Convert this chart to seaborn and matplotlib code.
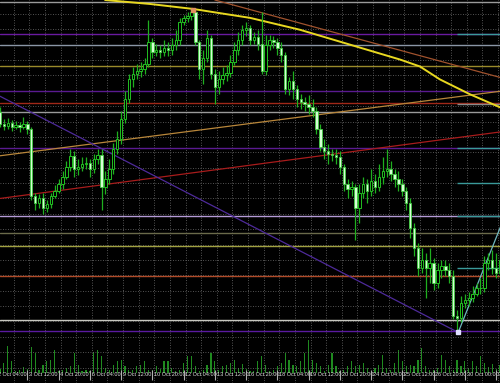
import numpy as np
import pandas as pd
import matplotlib
matplotlib.use("Agg")
import matplotlib.pyplot as plt
from matplotlib import font_manager
import seaborn as sns

# ---------------- data (USDJPY H4, Oct 2006) ----------------
first_open = 118.87
close = [118.75, 118.73, 118.76, 118.72, 118.74, 118.72, 118.75, 118.70, 118.02, 117.95,
         118.00, 117.90, 117.94, 118.02, 118.08, 118.15, 118.22, 118.32, 118.43, 118.30,
         118.32, 118.35, 118.36, 118.30, 118.40, 118.44, 118.12, 118.20, 118.30, 118.50,
         118.60, 118.80, 119.00, 119.20, 119.25, 119.28, 119.30, 119.35, 119.58, 119.48,
         119.50, 119.48, 119.52, 119.50, 119.55, 119.60, 119.78, 119.82, 119.84, 119.88,
         119.58, 119.30, 119.42, 119.62, 119.25, 119.12, 119.20, 119.24, 119.26, 119.38,
         119.50, 119.60, 119.70, 119.72, 119.60, 119.63, 119.56, 119.28, 119.55, 119.60,
         119.58, 119.52, 119.45, 119.10, 119.18, 119.10, 119.00, 118.97, 118.95, 118.92,
         118.88, 118.70, 118.52, 118.48, 118.45, 118.44, 118.42, 118.32, 118.15, 118.10,
         118.12, 117.90, 118.05, 118.15, 118.08, 118.18, 118.12, 118.22, 118.28, 118.30,
         118.25, 118.20, 118.15, 118.08, 117.95, 117.70, 117.50, 117.30, 117.38, 117.30,
         117.35, 117.15, 117.28, 117.32, 117.28, 117.22, 116.82, 116.80, 116.95, 116.98,
         117.00, 117.04, 117.10, 117.10, 117.35, 117.38, 117.30, 117.25, 117.38]
high = [118.92, 118.80, 118.81, 118.79, 118.78, 118.77, 118.82, 118.78, 118.72, 118.05,
        118.04, 118.05, 117.98, 118.05, 118.14, 118.20, 118.28, 118.38, 118.50, 118.48,
        118.40, 118.42, 118.42, 118.40, 118.45, 118.50, 118.50, 118.28, 118.40, 118.56,
        118.68, 118.88, 119.08, 119.25, 119.32, 119.35, 119.38, 119.42, 119.80, 119.62,
        119.56, 119.55, 119.60, 119.58, 119.62, 119.70, 119.82, 119.85, 119.88, 119.92,
        119.90, 119.60, 119.50, 119.70, 119.65, 119.30, 119.28, 119.32, 119.34, 119.45,
        119.58, 119.68, 119.75, 119.78, 119.75, 119.68, 119.70, 119.88, 119.65, 119.65,
        119.64, 119.62, 119.58, 119.48, 119.22, 119.28, 119.14, 119.05, 119.02, 119.04,
        119.00, 118.92, 118.75, 118.60, 118.55, 118.50, 118.50, 118.48, 118.35, 118.20,
        118.18, 118.15, 118.15, 118.22, 118.20, 118.30, 118.25, 118.35, 118.42, 118.50,
        118.38, 118.30, 118.28, 118.20, 118.12, 118.00, 117.75, 117.55, 117.50, 117.45,
        117.50, 117.40, 117.35, 117.38, 117.38, 117.35, 117.28, 116.88, 117.02, 117.04,
        117.06, 117.12, 117.15, 117.20, 117.42, 117.45, 117.48, 117.45, 117.45]
low = [118.72, 118.69, 118.70, 118.68, 118.70, 118.67, 118.70, 118.65, 117.98, 117.88,
       117.90, 117.84, 117.86, 117.90, 118.00, 118.05, 118.10, 118.20, 118.28, 118.22,
       118.24, 118.28, 118.30, 118.22, 118.26, 118.35, 117.88, 118.04, 118.15, 118.25,
       118.45, 118.55, 118.76, 118.96, 119.12, 119.20, 119.22, 119.25, 119.32, 119.42,
       119.44, 119.42, 119.44, 119.44, 119.45, 119.50, 119.55, 119.75, 119.78, 119.80,
       119.55, 119.20, 119.15, 119.38, 119.20, 118.95, 119.05, 119.15, 119.18, 119.22,
       119.34, 119.45, 119.55, 119.64, 119.55, 119.56, 119.50, 119.25, 119.24, 119.50,
       119.52, 119.45, 119.38, 119.05, 119.04, 119.00, 118.92, 118.90, 118.88, 118.85,
       118.82, 118.65, 118.48, 118.40, 118.35, 118.38, 118.35, 118.25, 118.08, 118.00,
       118.02, 117.58, 117.75, 118.00, 117.95, 118.02, 118.05, 118.08, 118.15, 118.22,
       118.18, 118.12, 118.08, 118.02, 117.88, 117.60, 117.42, 117.22, 117.25, 117.00,
       117.15, 117.08, 117.10, 117.20, 117.22, 117.15, 116.78, 116.65, 116.75, 116.90,
       116.92, 116.96, 117.02, 117.04, 117.06, 117.28, 117.24, 117.20, 117.20]
volume = [400, 1000, 2700, 1200, 200, 300, 600, 400, 2600, 2000,
          300, 800, 1200, 1300, 2300, 200, 300, 500, 700, 2000,
          800, 200, 300, 200, 2100, 2300, 1700, 500, 300, 800,
          1200, 1300, 700, 300, 300, 700, 800, 1200, 300, 300,
          700, 400, 1200, 1200, 500, 200, 300, 1000, 1700, 1700,
          700, 200, 300, 800, 2000, 1200, 300, 700, 800, 1000,
          1300, 500, 900, 400, 200, 200, 1200, 1700, 800, 200,
          300, 700, 1000, 2000, 1300, 800, 700, 1200, 2000, 3300,
          1300, 1000, 700, 200, 800, 2000, 700, 200, 300, 700,
          1200, 700, 800, 1000, 500, 200, 500, 800, 1800, 500,
          300, 1000, 2300, 1200, 700, 800, 700, 1300, 2500, 700,
          300, 300, 500, 1800, 1300, 700, 300, 1300, 700, 1200,
          500, 1200, 700, 1700, 1000, 600, 900, 400, 800]

tick_labels = ["2 Oct 04:00", "3 Oct 12:00", "4 Oct 20:00", "6 Oct 04:00", "9 Oct 12:00",
               "10 Oct 20:00", "12 Oct 04:00", "13 Oct 12:00", "16 Oct 20:00", "18 Oct 04:00",
               "19 Oct 12:00", "20 Oct 20:00", "24 Oct 04:00", "25 Oct 12:00", "26 Oct 20:00",
               "30 Oct 00:00", "31 Oct 04:00"]

# horizontal levels: (price, colour)
levels = [(119.98, "#9a9a9a"), (119.66, "#6a1aa0"), (119.55, "#8a96a6"), (119.33, "#9a8a2a"),
          (119.08, "#5a1a90"), (118.96, "#a02818"), (118.87, "#9a9a9a"), (118.51, "#5a1a90"),
          (117.82, "#b49ad6"), (117.65, "#6a6a4a"), (117.52, "#a0a040"), (117.22, "#b04a28"),
          (116.77, "#c8c8c0"), (116.66, "#5a1aa0")]
right_levels = [(119.66, "#3a9a9a"), (118.95, "#8a8a8a"), (118.51, "#3a9a9a"),
                (118.16, "#3a9a9a"), (117.82, "#3a9a9a"), (117.30, "#3a9a9a")]

# trend lines: (x0, y0, x1, y1, colour)
trend_lines = [(55.0, 120.00, 128.0, 119.22, "#a0522d"),
               (0.0, 118.43, 128.0, 119.08, "#b8863a"),
               (0.0, 118.00, 128.0, 118.67, "#a81c1c"),
               (0.0, 119.03, 117.3, 116.65, "#4e2a9a"),
               (117.3, 116.65, 128.5, 117.75, "#70b8c0")]

# moving average read points
ma_x = [26.9, 38.4, 49.4, 64.0, 76.8, 89.6, 102.4, 107.5, 112.6, 120.3, 128.5]
ma_y = [120.00, 119.96, 119.91, 119.82, 119.70, 119.55, 119.40, 119.33, 119.20, 119.05, 118.91]

# ---------------- drawing ----------------
sns.set_theme(style="dark")
avail = {f.name for f in font_manager.fontManager.ttflist}
lab_family = [f for f in ["Liberation Sans Narrow", "Liberation Sans", "DejaVu Sans"] if f in avail]
plt.rcParams["font.family"] = lab_family

n = len(close)
idx = np.arange(n)
opens = np.array([first_open] + close[:-1])
closes = np.array(close)
df = pd.DataFrame({"i": idx, "open": opens, "close": closes, "high": high,
                   "low": low, "volume": volume})

fig = plt.figure(figsize=(5.0, 3.83), dpi=100, facecolor="black")
ax2 = fig.add_axes([0, 0, 1, 1])
ax2.set_facecolor("black")
ax = fig.add_axes([0, 0, 1, 1])
ax.patch.set_visible(False)

xmin, xmax = 0.0, 128.0
ymin, ymax = 116.17, 120.00

# volume
sns.barplot(data=df, x="i", y="volume", ax=ax2, color="#1f8a1f", width=0.3,
            saturation=1, native_scale=True, errorbar=None, linewidth=0,
            edgecolor="#1f8a1f")
ax2.set_xlim(xmin, xmax)
ax2.set_ylim(-1000, 37300)
ax2.axis("off")

# grid
ax.set_xlim(xmin, xmax)
ax.set_ylim(ymin, ymax)
ax.set_xticks(np.arange(3.5, 129, 4))
ax.set_yticks(np.arange(119.86, 116.0, -0.155))
ax.grid(True, color="#6e6e6e", linestyle=(0, (1, 2)), linewidth=0.6)
ax.tick_params(length=0, labelbottom=False, labelleft=False)
for s in ax.spines.values():
    s.set_visible(False)

# levels
for p, c in levels:
    ax.axhline(p, color=c, lw=1.0, zorder=2)
for p, c in right_levels:
    ax.hlines(p, 117.0, xmax, color=c, lw=1.0, zorder=2.1)

for x0, y0, x1, y1, c in trend_lines:
    ax.plot([x0, x1], [y0, y1], color=c, lw=0.9, zorder=2.2)

sns.lineplot(x=ma_x, y=ma_y, ax=ax, color="#e8d820", lw=1.4, sort=False, zorder=2.5)

# candles
ax.vlines(df["i"], df["low"], df["high"], color="#1fb01f", lw=0.9, zorder=3)
up = df["close"] >= df["open"]
dn = ~up
ax.bar(df["i"][up], (df["close"] - df["open"])[up], bottom=df["open"][up], width=0.62,
       color="black", edgecolor="#22c022", linewidth=0.7, zorder=4)
ax.bar(df["i"][dn], (df["open"] - df["close"])[dn], bottom=df["close"][dn], width=0.62,
       color="#d4ffd4", edgecolor="#44cc44", linewidth=0.6, zorder=4)

ax.plot([49.4], [119.90], marker="s", ms=2.5, color="#e09060", zorder=5)
ax.plot([117.3], [116.65], marker="s", ms=2.5, color="#e0e0ff", zorder=5)

# time labels
for k, lab in enumerate(tick_labels):
    t = -1 + 8 * k
    ax.vlines(t, ymin, ymin + 0.10, color="#b0b0b0", lw=0.8, zorder=6)
    ax.text(t + 0.45, ymin + 0.055, lab, color="#e0e0e0", fontsize=4.0,
            va="center", ha="left", zorder=6, clip_on=True)

fig.savefig("out.png", dpi=100, facecolor="black")
